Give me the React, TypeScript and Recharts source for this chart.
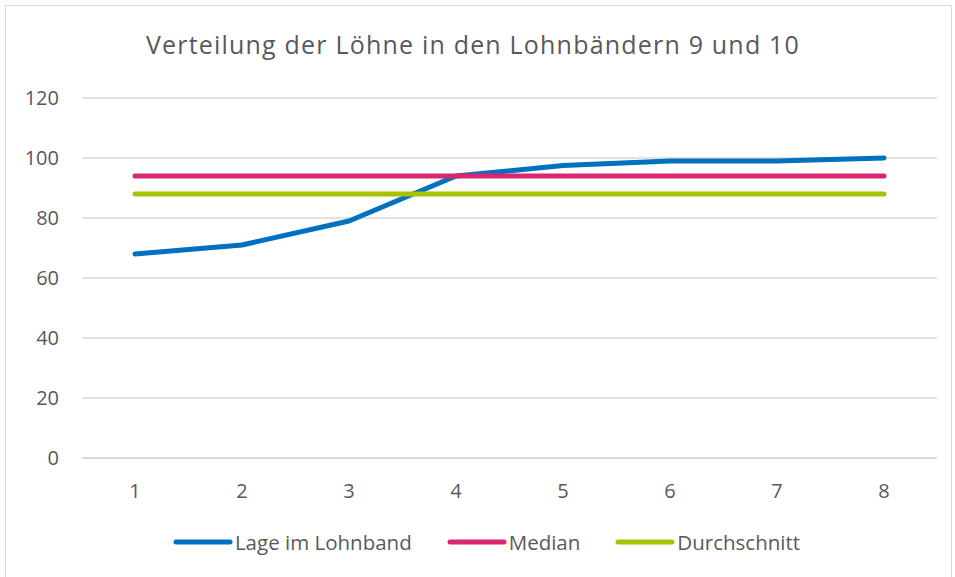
import React from 'react';
import { LineChart, Line, XAxis, YAxis, CartesianGrid, Legend } from 'recharts';

const categories = ['1', '2', '3', '4', '5', '6', '7', '8'];
const lageImLohnband = [68, 71, 79, 94, 97.5, 99, 99, 100];
const medianValues = [94, 94, 94, 94, 94, 94, 94, 94];
const durchschnittValues = [88, 88, 88, 88, 88, 88, 88, 88];
const yTicks = [0, 20, 40, 60, 80, 100, 120];

const seriesNames = ['Lage im Lohnband', 'Median', 'Durchschnitt'];
const seriesColors = ['#0070C0', '#D9266F', '#A9C200'];

const data = categories.map((c, i) => ({
  cat: c,
  lage: lageImLohnband[i],
  median: medianValues[i],
  durchschnitt: durchschnittValues[i],
}));

const FONT = '"Open Sans", sans-serif';
const TEXT = '#595959';

const renderLegend = (props: any) => {
  const payload = [...(props.payload || [])].sort(
    (a: any, b: any) => seriesNames.indexOf(a.value) - seriesNames.indexOf(b.value)
  );
  return (
    <div style={{ display: 'flex', justifyContent: 'center', gap: 35, fontFamily: FONT, fontSize: 20.5, color: TEXT, paddingLeft: 18 }}>
      {payload.map((p: any) => (
        <div key={p.value} style={{ display: 'flex', alignItems: 'center' }}>
          <svg width={60} height={10} style={{ marginRight: 2 }}>
            <line x1={3} y1={5} x2={57} y2={5} stroke={p.color} strokeWidth={5} strokeLinecap="round" />
          </svg>
          <span>{p.value}</span>
        </div>
      ))}
    </div>
  );
};

export default function App() {
  return (
    <div style={{ position: 'absolute', left: 0, top: 0, width: 955, height: 577, background: '#fff', overflow: 'hidden' }}>
      <div style={{ position: 'absolute', left: 5, top: 5, width: 945, height: 580, border: '1.5px solid #d9d9d9' }} />
      <div style={{ position: 'absolute', left: 0, top: 27, width: 946, textAlign: 'center', fontFamily: FONT, fontSize: 25, color: TEXT, letterSpacing: 1.2 }}>
        Verteilung der Löhne in den Lohnbändern 9 und 10
      </div>
      <div style={{ position: 'absolute', left: 0, top: 0 }}>
        <LineChart width={955} height={577} data={data} margin={{ top: 98, right: 18, left: 0, bottom: 59 }}>
          <CartesianGrid vertical={false} stroke="#d9d9d9" strokeWidth={1.5} />
          <XAxis
            dataKey="cat"
            height={30}
            axisLine={{ stroke: '#d9d9d9', strokeWidth: 1.5 }}
            tickLine={false}
            tickMargin={20}
            padding={{ left: 53, right: 53 }}
            tick={{ fontFamily: FONT, fontSize: 20, fill: TEXT }}
          />
          <YAxis
            width={82}
            domain={[0, 120]}
            ticks={yTicks}
            axisLine={false}
            tickLine={false}
            tickMargin={17}
            tick={{ fontFamily: FONT, fontSize: 20, fill: TEXT }}
          />
          <Legend verticalAlign="bottom" height={30} content={renderLegend} wrapperStyle={{ left: 0, top: 528, width: 955 }} />
          <Line type="linear" dataKey="lage" name={seriesNames[0]} stroke={seriesColors[0]} strokeWidth={5} dot={false} strokeLinecap="round" strokeLinejoin="round" isAnimationActive={false} />
          <Line type="linear" dataKey="median" name={seriesNames[1]} stroke={seriesColors[1]} strokeWidth={5} dot={false} strokeLinecap="round" isAnimationActive={false} />
          <Line type="linear" dataKey="durchschnitt" name={seriesNames[2]} stroke={seriesColors[2]} strokeWidth={5} dot={false} strokeLinecap="round" isAnimationActive={false} />
        </LineChart>
      </div>
    </div>
  );
}
